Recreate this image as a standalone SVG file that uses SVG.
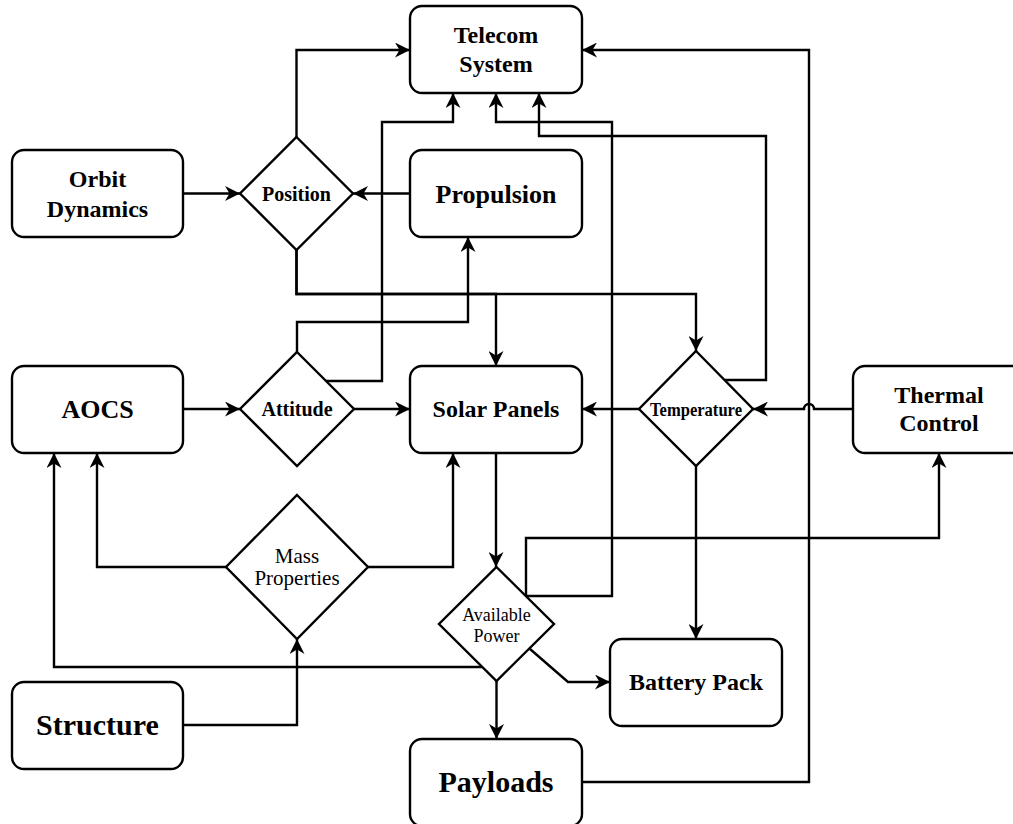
<svg xmlns="http://www.w3.org/2000/svg" width="1013" height="824" viewBox="0 0 1013 824">
<defs>
<marker id="arr" viewBox="0 0 15 15" refX="15" refY="7.5" markerWidth="15" markerHeight="15" markerUnits="userSpaceOnUse" orient="auto">
<path d="M0,0 L15,7.5 L0,15 L4.5,7.5 Z" fill="#000"/>
</marker>
<style>
.box{fill:#fff;stroke:#000;stroke-width:2.4}
.dia{fill:#fff;stroke:#000;stroke-width:2.4;stroke-linejoin:miter}
.c{fill:none;stroke:#000;stroke-width:2.4;stroke-linejoin:miter}
.a{marker-end:url(#arr)}
text{font-family:"Liberation Serif","Times New Roman",serif;fill:#000;text-anchor:middle}
.b{font-weight:bold}
</style>
</defs>
<rect width="1013" height="824" fill="#fff"/>
<g id="connectors">
<path class="c a" d="M183,193.5 L240,193.5"/>
<path class="c a" d="M410,193.5 L353,193.5"/>
<path class="c a" d="M296.5,137 L296.5,50 L410,50"/>
<path class="c a" d="M296.5,250 L296.5,294 L496,294 L496,366"/>
<path class="c a" d="M296.5,250 L296.5,294 L696,294 L696,351"/>
<path class="c a" d="M325,381 L382,381 L382,122 L453,122 L453,93"/>
<path class="c a" d="M297,352 L297,322 L468,322 L468,237"/>
<path class="c a" d="M183,409 L240,409"/>
<path class="c a" d="M354,409 L410,409"/>
<path class="c a" d="M639,409 L582,409"/>
<path class="c a" d="M853,409 L814,409 A5,5 0 0 0 804,409 L753,409"/>
<path class="c a" d="M725,380 L766,380 L766,136 L539,136 L539,93"/>
<path class="c a" d="M696,466 L696,639"/>
<path class="c a" d="M526,596 L612,596 L612,122 L496,122 L496,93"/>
<path class="c a" d="M526,596 L526,538 L939,538 L939,453"/>
<path class="c a" d="M496,453 L496,567"/>
<path class="c a" d="M226,567 L97,567 L97,453"/>
<path class="c a" d="M368,567 L453,567 L453,453"/>
<path class="c a" d="M482,667 L54,667 L54,453"/>
<path class="c a" d="M183,725 L297,725 L297,639"/>
<path class="c a" d="M496.5,681 L496.5,739"/>
<path class="c a" d="M530,649 L568,682 L610,682"/>
<path class="c a" d="M582,782 L809,782 L809,50 L582,50"/>
</g>
<g id="telecom">
<rect class="box" x="410" y="6" width="172" height="87" rx="12"/>
<text class="b" x="496" y="43" font-size="24">Telecom</text>
<text class="b" x="496" y="72" font-size="24">System</text>
</g>
<g id="orbit-dynamics">
<rect class="box" x="12" y="150" width="171" height="87" rx="12"/>
<text class="b" x="97.5" y="187" font-size="24">Orbit</text>
<text class="b" x="97.5" y="217" font-size="24">Dynamics</text>
</g>
<g id="position">
<polygon class="dia" points="296.5,137 353,193.5 296.5,250 240,193.5"/>
<text class="b" x="296.5" y="201" font-size="20">Position</text>
</g>
<g id="propulsion">
<rect class="box" x="410" y="150" width="172" height="87" rx="12"/>
<text class="b" x="496" y="203" font-size="26">Propulsion</text>
</g>
<g id="aocs">
<rect class="box" x="12" y="366" width="171" height="87" rx="12"/>
<text class="b" x="97.5" y="418" font-size="26">AOCS</text>
</g>
<g id="attitude">
<polygon class="dia" points="297,352 354,409 297,466 240,409"/>
<text class="b" x="297" y="416" font-size="20">Attitude</text>
</g>
<g id="solar-panels">
<rect class="box" x="410" y="366" width="172" height="87" rx="12"/>
<text class="b" x="496" y="417" font-size="24">Solar Panels</text>
</g>
<g id="temperature">
<polygon class="dia" points="696,351 753,409 696,466 639,409"/>
<text class="b" x="696" y="416" font-size="18" textLength="92" lengthAdjust="spacingAndGlyphs">Temperature</text>
</g>
<g id="thermal-control">
<rect class="box" x="853" y="366" width="172" height="87" rx="12"/>
<text class="b" x="939" y="403" font-size="24">Thermal</text>
<text class="b" x="939" y="431" font-size="24">Control</text>
</g>
<g id="mass-properties">
<polygon class="dia" points="297,495 368,567 297,639 226,567"/>
<text x="297" y="563" font-size="21">Mass</text>
<text x="297" y="585" font-size="21">Properties</text>
</g>
<g id="available-power">
<polygon class="dia" points="496.5,567 554,624 496.5,681 439,624"/>
<text x="496.5" y="621" font-size="18">Available</text>
<text x="496.5" y="642" font-size="18">Power</text>
</g>
<g id="structure">
<rect class="box" x="12" y="682" width="171" height="87" rx="12"/>
<text class="b" x="97.5" y="735" font-size="30">Structure</text>
</g>
<g id="payloads">
<rect class="box" x="410" y="739" width="172" height="87" rx="12"/>
<text class="b" x="496" y="792" font-size="30">Payloads</text>
</g>
<g id="battery-pack">
<rect class="box" x="610" y="639" width="172" height="87" rx="12"/>
<text class="b" x="696" y="690" font-size="24">Battery Pack</text>
</g>
</svg>
